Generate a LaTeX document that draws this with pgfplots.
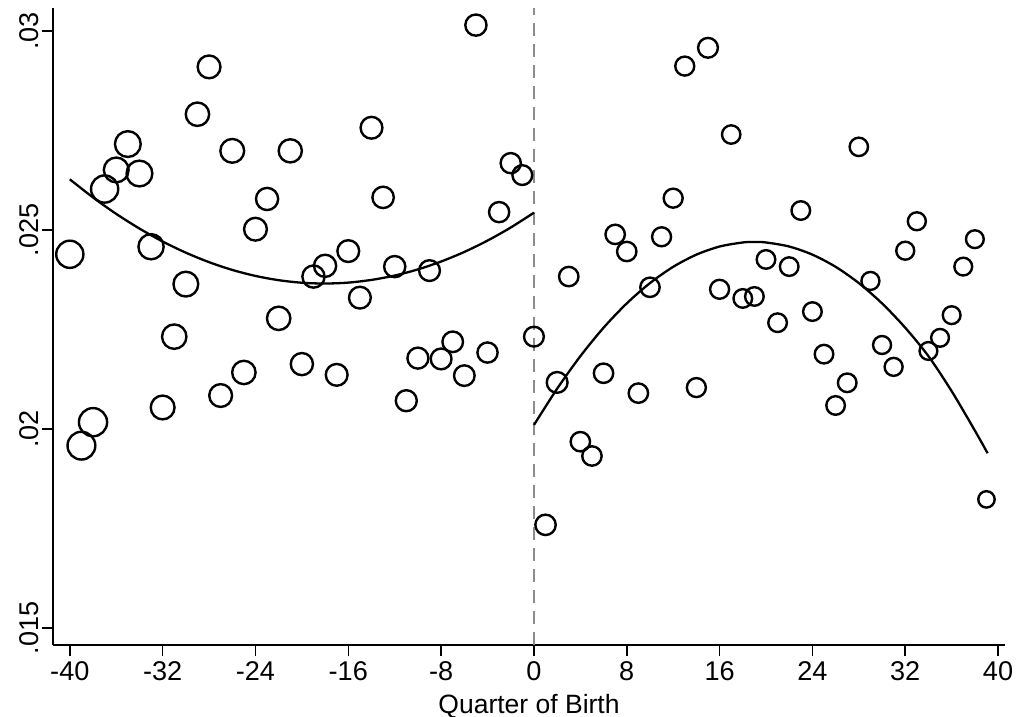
\documentclass[border=0pt]{standalone}
\usepackage{fontspec}
\setmainfont{Liberation Sans}
\usepackage{pgfplots}
\usepackage{pgfplotstable}
\pgfplotsset{compat=1.18}

\pgfplotstableread{
x y r
-40 0.02439 6.8
-39 0.01958 6.95
-38 0.02017 7.05
-37 0.02603 6.8
-36 0.02651 6.2
-35 0.02716 6.45
-34 0.02642 6.45
-33 0.02458 6.3
-32 0.02054 5.95
-31 0.02232 6.1
-30 0.02364 6.2
-29 0.02791 5.85
-28 0.02910 5.7
-27 0.02084 5.7
-26 0.02699 5.95
-25 0.02142 5.85
-24 0.02502 5.7
-23 0.02578 5.55
-22 0.02278 5.85
-21 0.02699 5.8
-20 0.02163 5.55
-19 0.02383 5.55
-18 0.02410 5.55
-17 0.02136 5.45
-16 0.02447 5.45
-15 0.02330 5.45
-14 0.02757 5.45
-13 0.02582 5.35
-12 0.02408 5.3
-11 0.02071 5.25
-10 0.02178 5.25
-9 0.02398 5.2
-8 0.02176 5.2
-7 0.02219 5.15
-6 0.02134 5.15
-5 0.03015 5.3
-4 0.02192 5.05
-3 0.02545 5.05
-2 0.02668 5.05
-1 0.02638 4.95
0 0.02232 4.95
1 0.01759 5.1
2 0.02117 5.2
3 0.02383 4.85
4 0.01968 4.85
5 0.01932 4.85
6 0.02140 4.85
7 0.02489 4.85
8 0.02446 4.85
9 0.02090 4.85
10 0.02356 4.85
11 0.02483 4.75
12 0.02580 4.75
13 0.02912 4.75
14 0.02104 4.75
15 0.02958 4.95
16 0.02351 4.75
17 0.02740 4.6
18 0.02328 4.65
19 0.02333 4.65
20 0.02426 4.65
21 0.02267 4.65
22 0.02408 4.65
23 0.02549 4.65
24 0.02295 4.65
25 0.02188 4.65
26 0.02059 4.65
27 0.02116 4.65
28 0.02709 4.6
29 0.02372 4.5
30 0.02211 4.5
31 0.02156 4.5
32 0.02448 4.5
33 0.02522 4.5
34 0.02196 4.45
35 0.02229 4.45
36 0.02286 4.45
37 0.02408 4.45
38 0.02477 4.45
39 0.01823 4.1
}\pts

\pgfplotstableread{
x y
-40 0.026274
-38 0.025818
-36 0.025405
-34 0.025037
-32 0.024711
-30 0.024430
-28 0.024192
-26 0.023997
-24 0.023846
-22 0.023739
-20 0.023675
-18 0.023655
-16 0.023678
-14 0.023746
-12 0.023856
-10 0.024010
-8 0.024208
-6 0.024449
-4 0.024734
-2 0.025063
0 0.025435
}\fitleft

\pgfplotstableread{
x y
0 0.020100
2 0.021012
4 0.021829
6 0.022544
8 0.023156
10 0.023666
12 0.024075
14 0.024381
16 0.024585
18 0.024687
19 0.024700
20 0.024687
22 0.024585
24 0.024381
26 0.024075
28 0.023666
30 0.023156
32 0.022544
34 0.021829
36 0.020950
38 0.019960
39.1 0.019389
}\fitright

\begin{document}
\begin{tikzpicture}
\begin{axis}[
  at={(0,0)}, anchor=south west,
  scale only axis,
  width=476bp, height=318.5bp,
  xmin=-41.45, xmax=40.6,
  ymin=0.01457, ymax=0.03058,
  axis lines=left,
  axis line style={-, line width=0.75bp, black},
  tick style={line width=0.75bp, black},
  tick align=outside,
  major tick length=5.5bp,
  scaled y ticks=false,
  scaled x ticks=false,
  xtick={-40,-32,-24,-16,-8,0,8,16,24,32,40},
  xticklabels={-40,-32,-24,-16,-8,0,8,16,24,32,40},
  ytick={0.015,0.02,0.025,0.03},
  yticklabels={.015,.02,.025,.03},
  tick label style={font=\fontsize{13.6}{15}\selectfont},
  yticklabel style={rotate=90, anchor=south, inner sep=1.5bp},
  xticklabel style={inner sep=2.5bp},
  xlabel={Quarter of Birth},
  xlabel style={font=\fontsize{13.3}{15}\selectfont, inner sep=1bp, yshift=-3bp},
  clip=false,
]
\addplot[color={rgb,255:red,140;green,140;blue,140}, line width=1bp, dash pattern=on 6.5bp off 4bp] coordinates {(0,0.01457) (0,0.03058)};
\addplot[scatter, only marks, mark=o,
  scatter/use mapped color={draw=black, fill=none},
  visualization depends on={\thisrow{r}\as\rad},
  scatter/@pre marker code/.append style={/tikz/mark size=\rad bp},
  mark options={line width=1.2bp}]
  table[x=x, y=y] {\pts};
\addplot[black, line width=1.15bp, smooth, no marks] table[x=x,y=y] {\fitleft};
\addplot[black, line width=1.15bp, smooth, no marks] table[x=x,y=y] {\fitright};
\end{axis}
\pgfresetboundingbox
\path (-26.5bp,-36bp) rectangle (481.5bp,322.5bp);
\end{tikzpicture}
\end{document}
